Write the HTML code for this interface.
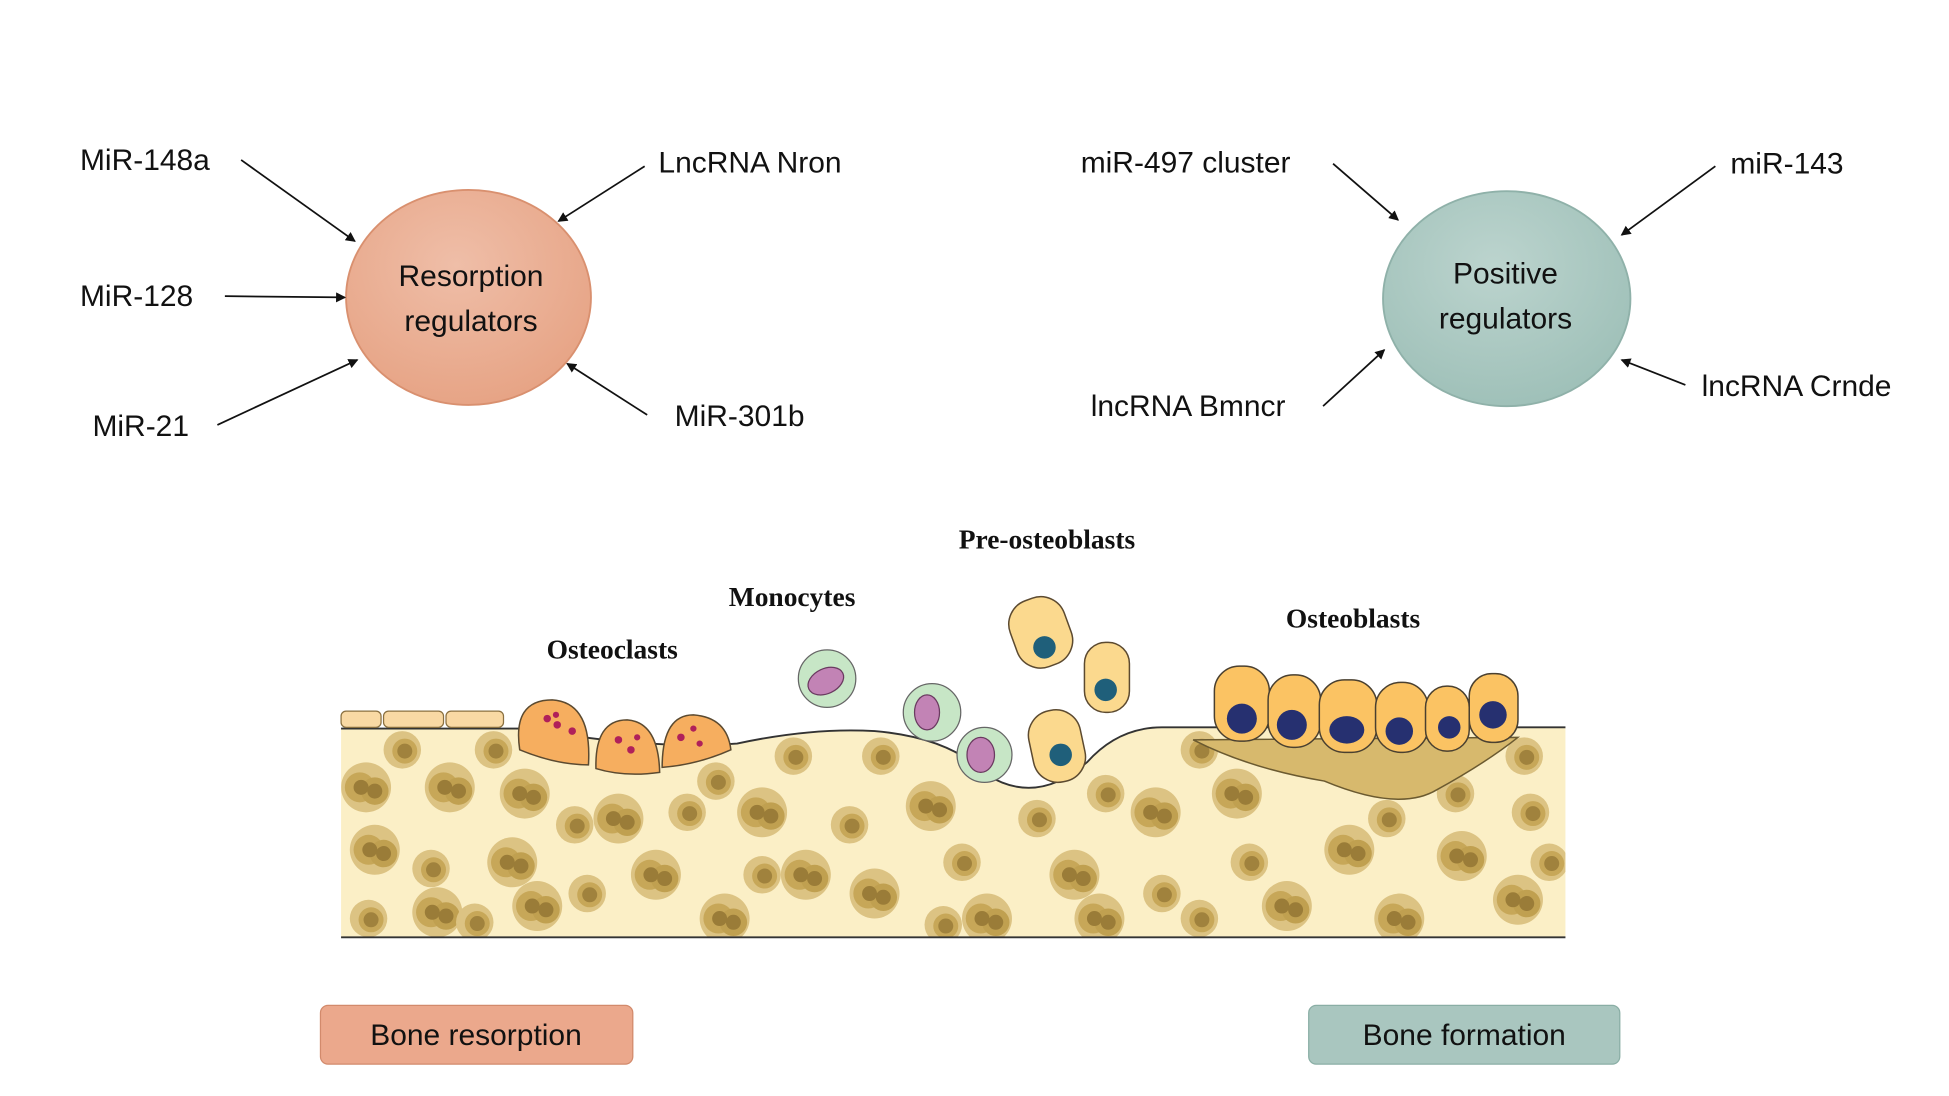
<!DOCTYPE html>
<html><head><meta charset="utf-8"><style>
html,body{margin:0;padding:0;background:#fff}
svg{display:block}
.l{font-family:"Liberation Sans",sans-serif;font-size:24px;fill:#111}
.b{font-family:"Liberation Serif",serif;font-size:22px;font-weight:bold;fill:#111}
</style></head><body>
<svg width="1949" height="1096" viewBox="0 0 1560 877" preserveAspectRatio="none">
<defs>
<marker id="ar" markerWidth="8" markerHeight="8" refX="7" refY="4" orient="auto" markerUnits="userSpaceOnUse"><path d="M0,0 L8,4 L0,8 z" fill="#111"/></marker>
<radialGradient id="gr" cx="45%" cy="35%" r="70%"><stop offset="0" stop-color="#efbea8"/><stop offset="1" stop-color="#e6a283"/></radialGradient>
<radialGradient id="gg" cx="45%" cy="35%" r="70%"><stop offset="0" stop-color="#bcd4ce"/><stop offset="1" stop-color="#9dbfb7"/></radialGradient>
<g id="h"><circle r="15" fill="#dcc383"/><circle r="10" cx="2" cy="1" fill="#c7a758"/><circle r="6" cx="2" cy="1" fill="#a0823d"/></g>
<g id="h2"><circle r="20" fill="#dcc383"/><circle cx="-5" r="12" fill="#c7a758"/><circle cx="7" cy="3" r="11" fill="#c0a050"/><circle cx="-4" r="6" fill="#9a7c38"/><circle cx="7" cy="3" r="6" fill="#9a7c38"/></g>
<clipPath id="bc"><path d="M273,583 L420,583 Q520,600 590,595 Q650,582 700,585 Q760,590 790,620 Q830,645 870,610 Q895,582 930,582 L1253,582 L1253,750 L273,750 z"/></clipPath>
</defs>

<ellipse cx="375" cy="238" rx="98" ry="86" fill="url(#gr)" stroke="#d9906f" stroke-width="1.5"/>
<text class="l" x="377" y="229" text-anchor="middle">Resorption</text>
<text class="l" x="377" y="265" text-anchor="middle">regulators</text>
<ellipse cx="1206" cy="239" rx="99" ry="86" fill="url(#gg)" stroke="#8fb1a9" stroke-width="1.5"/>
<text class="l" x="1205" y="227" text-anchor="middle">Positive</text>
<text class="l" x="1205" y="263" text-anchor="middle">regulators</text>

<g stroke="#111" stroke-width="1.4" marker-end="url(#ar)">
<line x1="193" y1="128" x2="284" y2="193"/>
<line x1="516" y1="133" x2="447" y2="177"/>
<line x1="180" y1="237" x2="276" y2="238"/>
<line x1="174" y1="340" x2="286" y2="288"/>
<line x1="518" y1="332" x2="454" y2="291"/>
<line x1="1067" y1="131" x2="1119" y2="176"/>
<line x1="1373" y1="133" x2="1298" y2="188"/>
<line x1="1059" y1="325" x2="1108" y2="280"/>
<line x1="1349" y1="308" x2="1298" y2="288"/>
</g>
<text class="l" x="64" y="136">MiR-148a</text>
<text class="l" x="527" y="138">LncRNA Nron</text>
<text class="l" x="64" y="245">MiR-128</text>
<text class="l" x="74" y="349">MiR-21</text>
<text class="l" x="540" y="341">MiR-301b</text>
<text class="l" x="865" y="138">miR-497 cluster</text>
<text class="l" x="1385" y="139">miR-143</text>
<text class="l" x="873" y="333">lncRNA Bmncr</text>
<text class="l" x="1362" y="317">lncRNA Crnde</text>

<!-- bone -->
<path d="M273,583 L420,583 Q520,600 590,595 Q650,582 700,585 Q760,590 790,620 Q830,645 870,610 Q895,582 930,582 L1253,582 L1253,750 L273,750 z" fill="#fbefc6"/>
<g clip-path="url(#bc)">
<use href="#h2" x="293" y="630"/><use href="#h" x="322" y="600"/><use href="#h2" x="360" y="630"/><use href="#h" x="395" y="600"/><use href="#h2" x="420" y="635"/>
<use href="#h2" x="300" y="680"/><use href="#h" x="345" y="695"/><use href="#h2" x="410" y="690"/><use href="#h" x="460" y="660"/><use href="#h2" x="495" y="655"/>
<use href="#h" x="295" y="735"/><use href="#h2" x="350" y="730"/><use href="#h" x="380" y="738"/><use href="#h2" x="430" y="725"/><use href="#h" x="470" y="715"/>
<use href="#h2" x="525" y="700"/><use href="#h" x="550" y="650"/><use href="#h" x="573" y="625"/><use href="#h2" x="610" y="650"/><use href="#h" x="635" y="605"/>
<use href="#h2" x="580" y="735"/><use href="#h2" x="645" y="700"/><use href="#h" x="680" y="660"/><use href="#h" x="705" y="605"/><use href="#h2" x="700" y="715"/>
<use href="#h2" x="745" y="645"/><use href="#h" x="770" y="690"/><use href="#h2" x="790" y="735"/><use href="#h" x="830" y="655"/><use href="#h2" x="860" y="700"/>
<use href="#h" x="885" y="635"/><use href="#h2" x="925" y="650"/><use href="#h" x="930" y="715"/><use href="#h2" x="880" y="735"/><use href="#h" x="960" y="600"/>
<use href="#h2" x="990" y="635"/><use href="#h" x="1000" y="690"/><use href="#h2" x="1030" y="725"/><use href="#h2" x="1080" y="680"/><use href="#h" x="1110" y="655"/>
<use href="#h2" x="1120" y="735"/><use href="#h2" x="1170" y="685"/><use href="#h" x="1165" y="635"/><use href="#h2" x="1215" y="720"/><use href="#h" x="1220" y="605"/>
<use href="#h" x="1240" y="690"/><use href="#h" x="1225" y="650"/><use href="#h" x="960" y="735"/><use href="#h" x="755" y="740"/><use href="#h" x="610" y="700"/>
</g>
<path d="M955,592 Q1000,615 1060,625 Q1120,650 1150,632 Q1190,610 1215,590 Z" fill="#d7b96d" stroke="#6b5a30" stroke-width="1.2"/>
<path d="M273,583 L420,583 Q520,600 590,595 Q650,582 700,585 Q760,590 790,620 Q830,645 870,610 Q895,582 930,582 L1253,582" fill="none" stroke="#333" stroke-width="1.5"/>
<line x1="273" y1="750" x2="1253" y2="750" stroke="#333" stroke-width="1.5"/>

<!-- lining cells -->
<g fill="#f9d9a4" stroke="#8a7040" stroke-width="1"><rect x="273" y="569" width="32" height="13" rx="4"/><rect x="307" y="569" width="48" height="13" rx="4"/><rect x="357" y="569" width="46" height="13" rx="4"/></g>
<!-- osteoclasts -->
<g fill="#f6ae5f" stroke="#5b4a30" stroke-width="1.2">
<path d="M416,600 Q410,560 442,560 Q474,562 471,612 Q445,612 416,600 Z"/>
<path d="M477,615 Q476,576 502,576 Q527,578 528,618 Q500,622 477,615 Z"/>
<path d="M530,614 Q530,572 555,572 Q582,574 585,600 Q558,612 530,614 Z"/>
</g>
<g fill="#b0205a"><circle cx="438" cy="575" r="3"/><circle cx="446" cy="580" r="3"/><circle cx="458" cy="585" r="3"/><circle cx="445" cy="572" r="2.5"/><circle cx="495" cy="592" r="3"/><circle cx="505" cy="600" r="3"/><circle cx="510" cy="590" r="2.5"/><circle cx="545" cy="590" r="3"/><circle cx="555" cy="583" r="2.5"/><circle cx="560" cy="595" r="2.5"/></g>
<!-- monocytes -->
<g fill="#c7e6c6" stroke="#666" stroke-width="1"><circle cx="662" cy="543" r="23"/><circle cx="746" cy="570" r="23"/><circle cx="788" cy="604" r="22"/></g>
<g fill="#c283b5" stroke="#6a3a60" stroke-width="1"><ellipse cx="661" cy="545" rx="15" ry="10" transform="rotate(-25 661 545)"/><ellipse cx="742" cy="570" rx="10" ry="14"/><ellipse cx="785" cy="604" rx="11" ry="14"/></g>
<!-- pre-osteoblasts -->
<g fill="#fbd98e" stroke="#5c4a30" stroke-width="1.2">
<rect x="810" y="478" width="46" height="56" rx="20" transform="rotate(-20 833 506)"/>
<rect x="868" y="514" width="36" height="56" rx="17"/>
<rect x="825" y="568" width="42" height="58" rx="20" transform="rotate(-12 846 597)"/>
</g>
<g fill="#1f5f7a"><circle cx="836" cy="518" r="9"/><circle cx="885" cy="552" r="9"/><circle cx="849" cy="604" r="9"/></g>
<!-- osteoblasts -->
<g fill="#fbc363" stroke="#4a4030" stroke-width="1.2">
<rect x="972" y="533" width="44" height="60" rx="20"/><rect x="1015" y="540" width="42" height="58" rx="20"/><rect x="1056" y="544" width="46" height="58" rx="20"/><rect x="1101" y="546" width="42" height="56" rx="20"/><rect x="1141" y="549" width="35" height="52" rx="17"/><rect x="1176" y="539" width="39" height="55" rx="18"/>
</g>
<g fill="#263070"><circle cx="994" cy="575" r="12"/><circle cx="1034" cy="580" r="12"/><ellipse cx="1078" cy="584" rx="14" ry="11"/><circle cx="1120" cy="585" r="11"/><circle cx="1160" cy="582" r="9"/><circle cx="1195" cy="572" r="11"/></g>

<text class="b" x="490" y="527" text-anchor="middle">Osteoclasts</text>
<text class="b" x="634" y="485" text-anchor="middle">Monocytes</text>
<text class="b" x="838" y="439" text-anchor="middle">Pre-osteoblasts</text>
<text class="b" x="1083" y="502" text-anchor="middle">Osteoblasts</text>

<rect x="256.5" y="804.5" width="250" height="47" rx="6" fill="#eba88c" stroke="#d28a6c"/>
<text class="l" x="381" y="836" text-anchor="middle">Bone resorption</text>
<rect x="1047.5" y="804.5" width="249" height="47" rx="6" fill="#a9c6bf" stroke="#8aaea5"/>
<text class="l" x="1172" y="836" text-anchor="middle">Bone formation</text>
</svg>
</body></html>
